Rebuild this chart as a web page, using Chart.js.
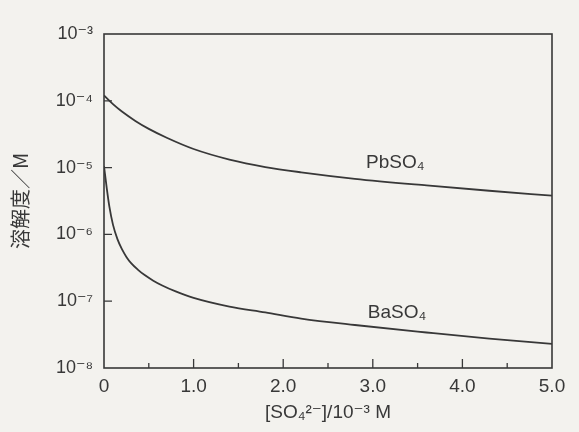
<!DOCTYPE html>
<html>
<head>
<meta charset="utf-8">
<script src="https://cdn.jsdelivr.net/npm/chart.js@4.4.1/dist/chart.umd.min.js"></script>
<style>
    html, body { margin: 0; padding: 0; background: #f3f2ee; }
    #wrap { width: 579px; height: 432px; }
</style>
</head>
<body>
<div id="wrap"><canvas id="solChart" width="579" height="432"></canvas></div>
<script>
// [SO4 2-] / 10^-3 M
const xPb = [0, 0.1, 0.2, 0.35, 0.5, 0.7, 1.0, 1.4, 1.8, 2.2, 2.8, 3.6, 4.3, 5.0];
const yPb = [1.2e-4, 8.9e-5, 6.9e-5, 5.0e-5, 3.8e-5, 2.8e-5, 1.9e-5, 1.32e-5, 1.02e-5, 8.5e-6, 6.8e-6, 5.4e-6, 4.5e-6, 3.8e-6];

const xBa = [0, 0.03, 0.06, 0.1, 0.15, 0.2, 0.25, 0.3, 0.38, 0.45, 0.55, 0.65, 0.8, 1.0, 1.4, 1.8, 2.2, 2.8, 3.6, 4.3, 5.0];
const yBa = [1.05e-5, 5.0e-6, 2.6e-6, 1.4e-6, 8.5e-7, 6.0e-7, 4.6e-7, 3.75e-7, 2.95e-7, 2.48e-7, 2.03e-7, 1.72e-7, 1.4e-7, 1.12e-7, 8.3e-8, 6.8e-8, 5.5e-8, 4.4e-8, 3.4e-8, 2.75e-8, 2.3e-8];

const xTicks = [0, 1, 2, 3, 4, 5];
const xLabels = ['0', '1.0', '2.0', '3.0', '4.0', '5.0'];
const xMinor = [0.5, 1.5, 2.5, 3.5, 4.5];

const yTicks = [1e-8, 1e-7, 1e-6, 1e-5, 1e-4, 1e-3];
const yLabels = ['10⁻⁸', '10⁻⁷', '10⁻⁶', '10⁻⁵', '10⁻⁴', '10⁻³'];

const ink = '#383838';
const latin = '"Liberation Sans", "DejaVu Sans", sans-serif';

function toPoints(xs, ys) {
    return xs.map((v, i) => ({ x: v, y: ys[i] }));
}

// latar kertas
const paper = {
    id: 'paper',
    beforeDraw(chart) {
        const ctx = chart.ctx;
        ctx.save();
        ctx.fillStyle = '#f3f2ee';
        ctx.fillRect(0, 0, chart.width, chart.height);
        ctx.restore();
    }
};

// bingkai, tick ke dalam, label kurva
const frame = {
    id: 'frame',
    afterDatasetsDraw(chart) {
        const { ctx, chartArea: a, scales: { x, y } } = chart;

        ctx.save();
        ctx.strokeStyle = ink;
        ctx.lineWidth = 1.6;
        ctx.strokeRect(a.left, a.top, a.right - a.left, a.bottom - a.top);

        ctx.beginPath();
        yTicks.slice(1, -1).forEach(v => {
            const py = y.getPixelForValue(v);
            ctx.moveTo(a.left, py);
            ctx.lineTo(a.left + 8, py);
        });
        xTicks.slice(1, -1).forEach(v => {
            const px = x.getPixelForValue(v);
            ctx.moveTo(px, a.bottom);
            ctx.lineTo(px, a.bottom - 9);
        });
        xMinor.forEach(v => {
            const px = x.getPixelForValue(v);
            ctx.moveTo(px, a.bottom);
            ctx.lineTo(px, a.bottom - 5);
        });
        ctx.lineWidth = 1.3;
        ctx.stroke();

        ctx.fillStyle = ink;
        ctx.font = '19px ' + latin;
        ctx.textAlign = 'center';
        ctx.textBaseline = 'middle';
        ctx.fillText('PbSO₄', x.getPixelForValue(3.25), y.getPixelForValue(1.17e-5));
        ctx.fillText('BaSO₄', x.getPixelForValue(3.27), y.getPixelForValue(6.6e-8));
        ctx.restore();
    }
};

const lineStyle = {
    borderColor: ink,
    borderWidth: 1.8,
    pointRadius: 0,
    fill: false,
    cubicInterpolationMode: 'monotone'
};

new Chart(document.getElementById('solChart'), {
    type: 'line',
    data: {
        datasets: [
            { label: 'PbSO₄', data: toPoints(xPb, yPb), ...lineStyle },
            { label: 'BaSO₄', data: toPoints(xBa, yBa), ...lineStyle }
        ]
    },
    options: {
        responsive: false,
        animation: false,
        devicePixelRatio: 1,
        layout: {
            padding: { top: 34, right: 27, left: 0, bottom: 0 }
        },
        plugins: {
            legend: { display: false },
            tooltip: { enabled: false }
        },
        scales: {
            x: {
                type: 'linear',
                min: 0,
                max: 5,
                grid: { display: false, drawTicks: false },
                border: { display: false },
                afterBuildTicks: axis => {
                    axis.ticks = xTicks.map(v => ({ value: v }));
                },
                afterFit: scale => { scale.height = 64; },
                ticks: {
                    padding: 7,
                    maxRotation: 0,
                    color: ink,
                    font: { family: latin, size: 19 },
                    callback: (v, i) => xLabels[i]
                },
                title: {
                    display: true,
                    text: '[SO₄²⁻]/10⁻³ M',
                    color: ink,
                    font: { family: latin, size: 19 },
                    padding: { top: 0, bottom: 8 }
                }
            },
            y: {
                type: 'logarithmic',
                min: 1e-8,
                max: 1e-3,
                grid: { display: false, drawTicks: false },
                border: { display: false },
                afterBuildTicks: axis => {
                    axis.ticks = yTicks.map(v => ({ value: v, major: true }));
                },
                afterFit: scale => { scale.width = 104; },
                ticks: {
                    padding: 11,
                    color: ink,
                    font: { family: latin, size: 18 },
                    callback: (v, i) => yLabels[i]
                },
                title: {
                    display: true,
                    text: '溶解度／M',
                    color: ink,
                    font: { family: '"Noto Sans CJK JP", sans-serif', size: 20 },
                    padding: { top: 8, bottom: 0 }
                }
            }
        }
    },
    plugins: [paper, frame]
});
</script>
</body>
</html>
